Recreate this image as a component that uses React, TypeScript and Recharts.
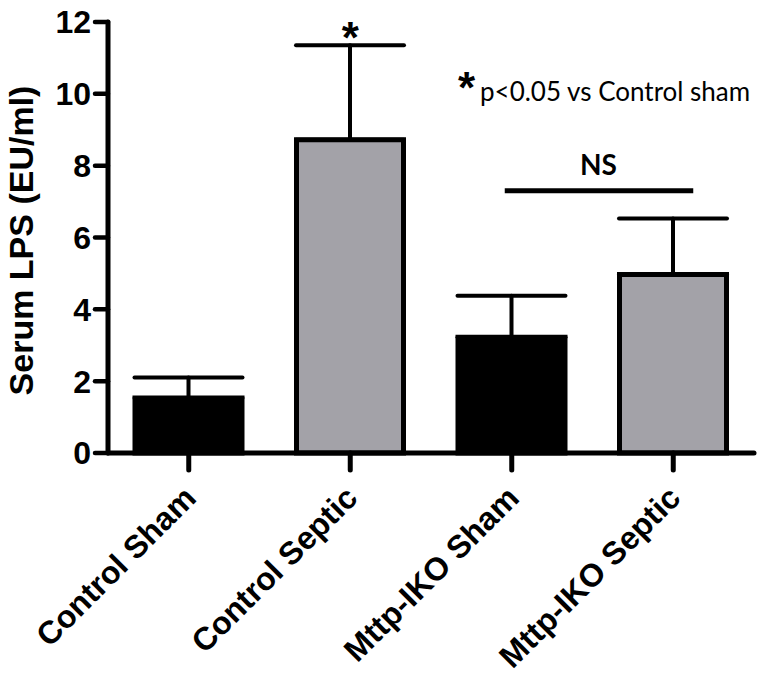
import React from "react";
import {
  BarChart,
  Bar,
  Cell,
  XAxis,
  YAxis,
  ErrorBar,
  ReferenceDot,
  ReferenceLine,
} from "recharts";

const categories = ["Control Sham", "Control Septic", "Mttp-IKO Sham", "Mttp-IKO Septic"];
const meanLps = [1.53, 8.72, 3.22, 4.97];
const semLps = [0.57, 2.63, 1.16, 1.56];
const barFills = ["#000000", "#a3a2a8", "#000000", "#a3a2a8"];
const sigMarks = ["", "*", "", ""];
const yTicks = [0, 2, 4, 6, 8, 10, 12];
const nsPair = ["Mttp-IKO Sham", "Mttp-IKO Septic"];
const nsLevel = 7.3;

const data = categories.map((name, i) => ({
  name,
  lps: meanLps[i],
  err: [0, semLps[i]],
}));

const FONT = '"Liberation Sans", Arial, sans-serif';

function XTick({ x, y, payload }: any) {
  return (
    <g transform={`translate(${x + 9},${y + 28})`}>
      <text
        textAnchor="end"
        transform="rotate(-45)"
        fontSize={32}
        fontWeight="bold"
        fontFamily={FONT}
        fill="#000"
      >
        {payload.value}
      </text>
    </g>
  );
}

function YTitle({ viewBox }: any) {
  const cx = viewBox.x + 33;
  const cy = viewBox.y + viewBox.height / 2 + 3;
  return (
    <text
      x={cx}
      y={cy}
      transform={`rotate(-90 ${cx} ${cy})`}
      textAnchor="middle"
      fontSize={34}
      fontWeight="bold"
      fontFamily={FONT}
      fill="#000"
    >
      Serum LPS (EU/ml)
    </text>
  );
}

export default function App() {
  return (
    <div style={{ position: "absolute", left: 0, top: 0, width: 764, height: 680, background: "#fff" }}>
      <BarChart
        width={764}
        height={680}
        data={data}
        margin={{ top: 22, right: 10, bottom: 0, left: 0 }}
      >
        <XAxis
          dataKey="name"
          height={227}
          interval={0}
          tick={<XTick />}
          tickSize={17}
          tickLine={{ stroke: "#000", strokeWidth: 5, strokeLinecap: "round" }}
          axisLine={{ stroke: "#000", strokeWidth: 5, strokeLinecap: "round" }}
        />
        <YAxis
          width={108}
          domain={[0, 12]}
          ticks={yTicks}
          tickSize={13}
          tickMargin={4}
          tick={{ fill: "#000", fontSize: 32, fontWeight: "bold", fontFamily: FONT }}
          tickLine={{ stroke: "#000", strokeWidth: 4.5, strokeLinecap: "round" }}
          axisLine={{ stroke: "#000", strokeWidth: 5, strokeLinecap: "round" }}
          label={(props: any) => <YTitle {...props} />}
        />
        <Bar dataKey="lps" barSize={107} stroke="#000" strokeWidth={5} isAnimationActive={false}>
          {data.map((d, i) => (
            <Cell key={d.name} fill={barFills[i]} />
          ))}
          <ErrorBar
            dataKey="err"
            direction="y"
            width={54}
            stroke="#000"
            strokeWidth={4}
            strokeLinecap="round"
            isAnimationActive={false}
          />
        </Bar>
        {categories.map((name, i) =>
          sigMarks[i] ? (
            <ReferenceDot
              key={name}
              x={name}
              y={meanLps[i] + semLps[i]}
              shape={(p: any) => (
                <text
                  x={p.cx}
                  y={p.cy + 8}
                  textAnchor="middle"
                  fontSize={44}
                  fontWeight="bold"
                  fontFamily={FONT}
                  fill="#000"
                >
                  {sigMarks[i]}
                </text>
              )}
            />
          ) : null
        )}
        <ReferenceLine
          segment={[
            { x: nsPair[0], y: nsLevel },
            { x: nsPair[1], y: nsLevel },
          ]}
          shape={(p: any) => (
            <g>
              <line
                x1={p.x1 - 7}
                y1={p.y1}
                x2={p.x2 + 20}
                y2={p.y2}
                stroke="#000"
                strokeWidth={5}
              />
              <text
                x={(p.x1 + p.x2) / 2 + 6}
                y={p.y1 - 16}
                textAnchor="middle"
                fontSize={28}
                fontWeight="bold"
                fontFamily="Lato, sans-serif"
                fill="#000"
              >
                NS
              </text>
            </g>
          )}
        />
      </BarChart>
      <svg
        width={764}
        height={680}
        style={{ position: "absolute", left: 0, top: 0, pointerEvents: "none" }}
      >
        <text x={458} y={103} fontSize={44} fontWeight="bold" fontFamily={FONT} fill="#000">
          *
        </text>
        <text x={480} y={101} fontSize={26} fontFamily="Lato, sans-serif" fill="#000">
          p&lt;0.05 vs Control sham
        </text>
      </svg>
    </div>
  );
}
